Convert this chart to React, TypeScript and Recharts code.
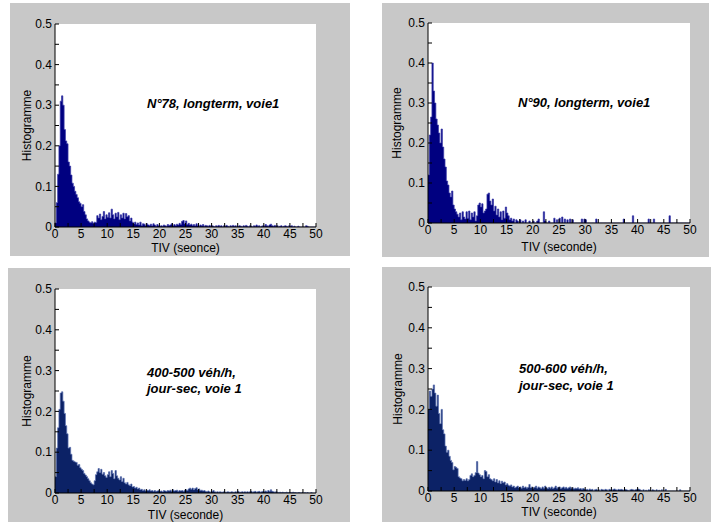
import React from 'react';
import { AreaChart, Area, XAxis, YAxis, CartesianGrid } from 'recharts';

const BIN = 0.25;
const X_TICKS = [0, 2.5, 5, 7.5, 10, 12.5, 15, 17.5, 20, 22.5, 25, 27.5, 30, 32.5, 35, 37.5, 40, 42.5, 45, 47.5, 50];
const Y_TICKS = [0, 0.05, 0.1, 0.15, 0.2, 0.25, 0.3, 0.35, 0.4, 0.45, 0.5];

// histogram heights x1000, one value per 0.25 s bin from 0 to 50 s (20 bins per line = 5 s)
const n78 = [
  10, 60, 130, 200, 310, 323, 300, 240, 212, 205, 160, 150, 128, 108, 100, 88, 80, 72, 62, 58,
  50, 55, 38, 30, 20, 15, 12, 10, 13, 9, 12, 11, 28, 22, 32, 18, 26, 38, 20, 30,
  24, 35, 22, 44, 30, 20, 34, 25, 36, 18, 30, 22, 34, 20, 33, 25, 28, 15, 22, 12,
  8, 12, 6, 10, 5, 12, 4, 8, 7, 3, 8, 5, 4, 7, 3, 8, 5, 2, 6, 3,
  2, 3, 2, 5, 3, 2, 6, 4, 5, 8, 3, 6, 4, 7, 5, 9, 6, 14, 16, 8,
  15, 6, 9, 5, 7, 4, 6, 3, 8, 4, 2, 5, 3, 6, 2, 4, 3, 2, 4, 2,
  3, 2, 0, 3, 2, 4, 2, 3, 0, 3, 2, 4, 2, 0, 3, 2, 4, 2, 3, 0,
  2, 3, 2, 0, 3, 2, 4, 2, 0, 3, 2, 0, 3, 2, 5, 2, 3, 0, 2, 3,
  2, 6, 3, 2, 5, 7, 3, 2, 4, 2, 3, 0, 2, 3, 0, 2, 3, 2, 0, 3,
  2, 3, 0, 2, 0, 0, 2, 0, 0, 0, 0, 0, 3, 2, 0, 0, 0, 0, 0, 0,
];

const n90 = [
  120, 220, 265, 400, 330, 300, 260, 245, 225, 200, 235, 190, 160, 140, 105, 95, 75, 65, 80, 45,
  35, 28, 22, 15, 25, 8, 28, 15, 10, 28, 12, 30, 8, 25, 15, 28, 5, 18, 45, 50,
  40, 48, 25, 30, 35, 72, 75, 55, 45, 60, 30, 42, 20, 35, 15, 28, 8, 30, 12, 40,
  25, 18, 8, 12, 5, 10, 0, 8, 5, 0, 8, 0, 5, 0, 8, 0, 0, 5, 0, 0,
  5, 0, 0, 5, 10, 0, 0, 0, 28, 5, 0, 0, 5, 0, 0, 0, 12, 0, 8, 0,
  12, 0, 15, 0, 10, 0, 8, 0, 10, 0, 8, 0, 0, 0, 0, 0, 0, 10, 0, 10,
  8, 0, 0, 0, 0, 0, 0, 0, 10, 0, 0, 0, 0, 0, 0, 0, 0, 0, 0, 0,
  0, 0, 0, 0, 0, 0, 0, 0, 0, 10, 0, 0, 0, 0, 0, 0, 18, 0, 0, 0,
  0, 0, 0, 0, 0, 0, 0, 0, 10, 0, 0, 0, 10, 0, 0, 0, 0, 0, 0, 0,
  0, 0, 0, 0, 18, 0, 0, 0, 0, 0, 0, 0, 0, 0, 0, 0, 0, 0, 0, 0,
];

const v400 = [
  40, 110, 160, 205, 245, 248, 225, 195, 165, 145, 110, 112, 95, 80, 78, 76, 75, 68, 70, 62,
  58, 55, 48, 44, 40, 35, 30, 25, 22, 20, 30, 45, 52, 60, 50, 58, 46, 50, 42, 38,
  45, 52, 40, 55, 48, 35, 55, 42, 36, 32, 40, 28, 36, 25, 22, 26, 20, 18, 22, 15,
  16, 12, 14, 10, 12, 8, 9, 6, 8, 5, 7, 6, 8, 5, 6, 4, 6, 4, 5, 6,
  4, 5, 3, 6, 5, 4, 6, 5, 7, 4, 8, 5, 6, 7, 4, 6, 5, 6, 4, 7,
  8, 6, 10, 12, 9, 12, 8, 11, 13, 8, 10, 6, 7, 5, 6, 4, 3, 5, 3, 2,
  4, 6, 3, 2, 3, 2, 3, 2, 2, 3, 2, 2, 3, 2, 2, 3, 2, 2, 3, 2,
  4, 2, 2, 3, 2, 3, 2, 3, 2, 3, 4, 2, 3, 4, 2, 3, 4, 2, 3, 4,
  3, 5, 3, 6, 4, 8, 4, 3, 2, 3, 2, 1, 2, 1, 2, 1, 1, 2, 1, 1,
  1, 1, 2, 1, 1, 0, 1, 1, 0, 1, 0, 1, 0, 1, 0, 0, 1, 0, 0, 0,
];

const v500 = [
  200, 245, 232, 250, 260, 240, 208, 235, 190, 165, 200, 150, 140, 110, 95, 100, 85, 75, 70, 52,
  60, 58, 55, 35, 32, 30, 25, 28, 26, 30, 25, 28, 38, 42, 35, 38, 45, 72, 44, 40,
  35, 38, 30, 50, 48, 35, 40, 30, 28, 25, 30, 22, 28, 20, 25, 18, 24, 20, 22, 15,
  18, 14, 12, 15, 10, 12, 8, 10, 12, 8, 10, 7, 12, 8, 10, 7, 9, 16, 8, 10,
  7, 9, 12, 7, 10, 8, 6, 10, 7, 12, 8, 6, 9, 7, 10, 6, 8, 12, 7, 9,
  10, 6, 8, 10, 7, 9, 6, 8, 10, 6, 8, 5, 7, 6, 8, 5, 6, 4, 6, 5,
  3, 4, 2, 5, 3, 4, 0, 3, 4, 2, 3, 0, 4, 3, 2, 4, 3, 0, 4, 3,
  2, 4, 5, 3, 2, 4, 3, 4, 3, 2, 4, 3, 2, 0, 3, 4, 3, 2, 3, 4,
  5, 4, 2, 0, 3, 0, 2, 0, 3, 2, 0, 3, 2, 0, 3, 0, 2, 0, 3, 0,
  0, 4, 0, 0, 0, 0, 0, 0, 0, 0, 0, 0, 3, 0, 0, 0, 0, 0, 0, 0,
];

const toBins = (vals: number[]) => {
  const rows = vals.map((v, i) => ({ t: i * BIN, h: v / 1000 }));
  rows.push({ t: vals.length * BIN, h: 0 });
  return rows;
};

const fmtX = (v: number) => (v % 5 === 0 ? String(v) : '');
const fmtY = (v: number) => (Math.round(v * 100) % 10 === 0 ? String(v) : '');

interface PanelProps {
  box: { left: number; top: number; width: number; height: number };
  plot: { top: number; right: number; bottom: number; left: number };
  values: number[];
  fill: string;
  edge: string;
  xLabel: string;
  xLabelDy: number;
  yLabelX: number;
  note: string[];
  noteLeft: number;
  noteTop: number;
  noteLine: number;
}

const Panel: React.FC<PanelProps> = ({ box, plot, values, fill, edge, xLabel, xLabelDy, yLabelX, note, noteLeft, noteTop, noteLine }) => {
  const data = toBins(values);
  const axisCommon = {
    axisLine: { stroke: '#000' },
    tickLine: { stroke: '#000' },
    tickSize: -4,
    interval: 0 as const,
    allowDataOverflow: true,
  };
  return (
    <div style={{ position: 'absolute', left: box.left, top: box.top, width: box.width, height: box.height, background: '#c8c8c8' }}>
      <AreaChart
        width={box.width}
        height={box.height}
        data={data}
        margin={{ top: plot.top, right: plot.right, bottom: 0, left: 0 }}
        style={{ overflow: 'visible' }}
      >
        <CartesianGrid horizontal={false} vertical={false} fill="#ffffff" fillOpacity={1} />
        <XAxis
          {...axisCommon}
          dataKey="t"
          type="number"
          domain={[0, 50]}
          ticks={X_TICKS}
          height={plot.bottom}
          tickMargin={6}
          tickFormatter={fmtX}
          tick={{ fill: '#000', fontSize: 12 }}
          label={{ value: xLabel, position: 'insideTop', offset: xLabelDy, fill: '#000', fontSize: 12 }}
        />
        <XAxis {...axisCommon} xAxisId="top" orientation="top" dataKey="t" type="number" domain={[0, 50]} ticks={X_TICKS} height={0} tick={false} />
        <YAxis
          {...axisCommon}
          type="number"
          domain={[0, 0.5]}
          ticks={Y_TICKS}
          width={plot.left}
          tickMargin={7}
          tickFormatter={fmtY}
          tick={{ fill: '#000', fontSize: 12 }}
          label={{ value: 'Histogramme', angle: -90, position: 'insideLeft', offset: yLabelX, fill: '#000', fontSize: 12, style: { textAnchor: 'middle' } }}
        />
        <YAxis {...axisCommon} yAxisId="right" orientation="right" type="number" domain={[0, 0.5]} ticks={Y_TICKS} width={0} tick={false} />
        <Area
          type="stepAfter"
          dataKey="h"
          stroke={edge}
          strokeWidth={0.7}
          fill={fill}
          fillOpacity={1}
          dot={false}
          activeDot={false}
          isAnimationActive={false}
        />
      </AreaChart>
      <div
        style={{
          position: 'absolute',
          left: noteLeft - box.left,
          top: noteTop - box.top,
          fontSize: 13,
          lineHeight: `${noteLine}px`,
          fontWeight: 'bold',
          fontStyle: 'italic',
          color: '#000',
          whiteSpace: 'nowrap',
        }}
      >
        {note.map((l) => (
          <div key={l}>{l}</div>
        ))}
      </div>
    </div>
  );
};

export default function App() {
  return (
    <div
      style={{
        position: 'absolute',
        left: 0,
        top: 0,
        width: 711,
        height: 522,
        background: '#fff',
        fontFamily: '"Liberation Sans", Arial, sans-serif',
        overflow: 'hidden',
      }}
    >
      <Panel
        box={{ left: 10, top: 3, width: 340, height: 253 }}
        plot={{ top: 21, right: 34, bottom: 29, left: 45 }}
        values={n78}
        fill="#000080"
        edge="#3a3aa8"
        xLabel="TIV (seonce)"
        xLabelDy={16}
        yLabelX={17}
        note={['N°78, longterm, voie1']}
        noteLeft={147}
        noteTop={96}
        noteLine={16}
      />
      <Panel
        box={{ left: 382, top: 3, width: 327, height: 254 }}
        plot={{ top: 20, right: 19, bottom: 34, left: 46 }}
        values={n90}
        fill="#000080"
        edge="#3a3aa8"
        xLabel="TIV (seconde)"
        xLabelDy={19}
        yLabelX={15}
        note={['N°90, longterm, voie1']}
        noteLeft={518}
        noteTop={95}
        noteLine={16}
      />
      <Panel
        box={{ left: 8, top: 268, width: 342, height: 254 }}
        plot={{ top: 21, right: 34, bottom: 29, left: 47 }}
        values={v400}
        fill="#0c2266"
        edge="#5a70b0"
        xLabel="TIV (seconde)"
        xLabelDy={17}
        yLabelX={19}
        note={['400-500 véh/h,', 'jour-sec, voie 1']}
        noteLeft={147}
        noteTop={365}
        noteLine={16}
      />
      <Panel
        box={{ left: 382, top: 267, width: 329, height: 255 }}
        plot={{ top: 20, right: 21, bottom: 31, left: 46 }}
        values={v500}
        fill="#0c2266"
        edge="#5a70b0"
        xLabel="TIV (seconde)"
        xLabelDy={16}
        yLabelX={16}
        note={['500-600 véh/h,', 'jour-sec, voie 1']}
        noteLeft={519}
        noteTop={360}
        noteLine={17}
      />
    </div>
  );
}
